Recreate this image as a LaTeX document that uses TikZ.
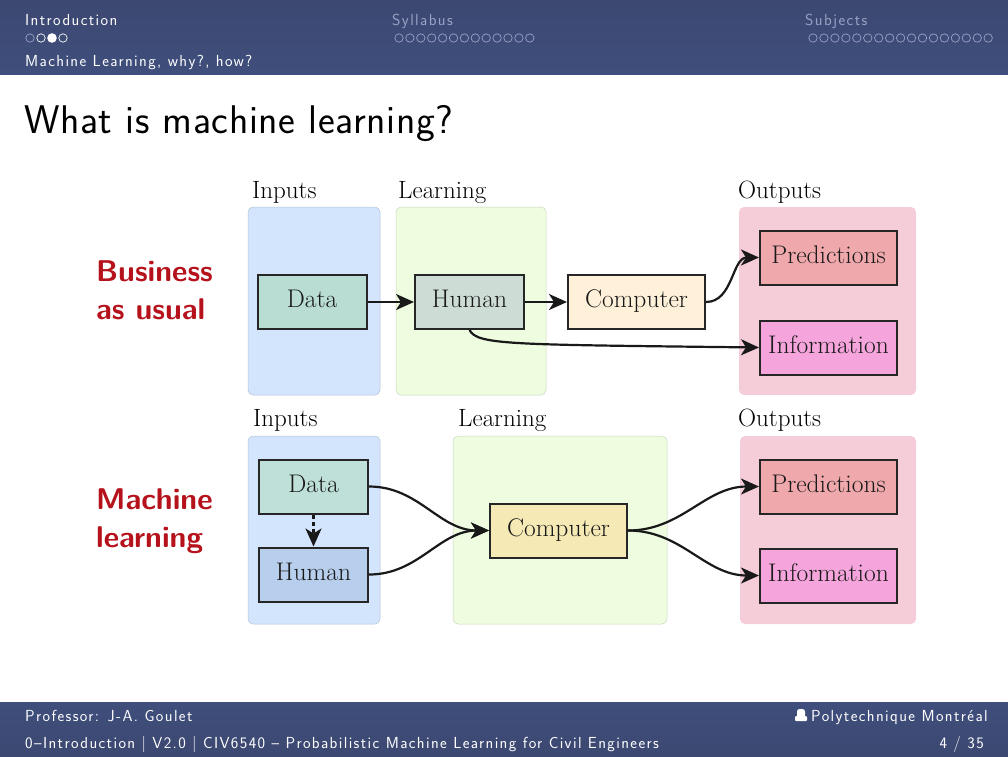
\documentclass[tikz,border=0pt]{standalone}
\usepackage{fontspec}
\usepackage{tikz}
\usetikzlibrary{arrows.meta}
\newfontfamily\navsans{Latin Modern Sans}[LetterSpace=8.7]
\newfontfamily\titlesans{Latin Modern Sans}[LetterSpace=1.6]
\definecolor{barTop}{HTML}{3C4871}
\definecolor{barBot}{HTML}{3F4E7C}
\definecolor{navDim}{HTML}{98A2C4}
\definecolor{inBlue}{HTML}{D2E5FC}
\definecolor{learnGreen}{HTML}{EEFCDF}
\definecolor{outPink}{HTML}{F4CDD8}
\definecolor{rowRed}{HTML}{B5121B}
\tikzset{lbl/.style={inner sep=0pt, anchor=base west, font=\fontsize{25}{28}\selectfont},
  navlbl/.style={inner sep=0pt, anchor=base west, text=white, font=\navsans\fontsize{16}{18}\selectfont},
  rowlbl/.style={inner sep=0pt, anchor=base west, align=left, text=rowRed,
  font=\sffamily\bfseries\fontsize{30}{38}\selectfont},
  region/.style={rounded corners=5pt, line width=0.5pt},
  box/.style={draw=black!85, line width=2pt, inner sep=0pt, minimum width=109pt,
  minimum height=54pt, text height=18pt, text depth=7pt,
  font=\fontsize{25.5}{28}\selectfont, text=black!90}}

\begin{document}
\begin{tikzpicture}[x=1pt, y=-1pt, >={Stealth[length=18pt, width=16pt, inset=5pt]},
  edge/.style={->, line width=2.2pt, black!90},
  dot/.style={draw, line width=0.7pt}]
  \useasboundingbox (0,0) rectangle (1008,756);
  % header and footer bars
  \fill[top color=barTop, bottom color=barBot] (0,0) rectangle (1008,74);
  \fill[top color=barBot, bottom color=barTop] (0,702) rectangle (1008,756);
  \node[navlbl] (secA) at (25,25) {Introduction};
  \node[navlbl, text=navDim] (secB) at (392,25) {Syllabus};
  \node[navlbl, text=navDim] (secC) at (805,25) {Subjects};
  \node[navlbl] (subsec) at (25,66) {Machine Learning, why?, how?};
  \draw[dot, navDim] (30,38) circle (4.2);
  \foreach \x in {41,63}
    \draw[dot, white] (\x,38) circle (4.2);
  \fill[white] (52,38) circle (4.8);
  \foreach \i in {0,...,12}
    \draw[dot, navDim] (399+\i*10.9,38) circle (4.2);
  \foreach \i in {0,...,16}
    \draw[dot, navDim] (813+\i*10.95,38) circle (4.2);
  \node[inner sep=0pt, anchor=base west, font=\titlesans\fontsize{40}{44}\selectfont] (title) at (24,133)
    {What is machine learning?};
  \node[navlbl] (prof) at (25,721) {Professor: J-A. Goulet};
  \node[navlbl] (course) at (25,748) {0–Introduction | V2.0 | CIV6540 – Probabilistic Machine Learning for Civil Engineers};
  % school logo
  \fill[white, rounded corners=2.5pt] (797,709) rectangle (805,718);
  \fill[white, rounded corners=1pt] (795,716) rectangle (807,721);
  \node[navlbl] (poly) at (811,721) {Polytechnique Montréal};
  \node[navlbl, anchor=base east] (page) at (984,748) {4 / 35};
  % row names
  \node[rowlbl] (rowA) at (96,319) {Business\\as usual};
  \node[rowlbl] (rowB) at (96,547) {Machine\\learning};
  % top row regions
  \fill[region, draw=inBlue!85!black, fill=inBlue] (248,207) rectangle (380,395);
  \fill[region, draw=learnGreen!85!black, fill=learnGreen] (396,207) rectangle (546,395);
  \fill[region, fill=outPink] (739,207) rectangle (916,395);
  \node[lbl] (tInputs) at (252,198) {Inputs};
  \node[lbl] (tLearning) at (398,198) {Learning};
  \node[lbl] (tOutputs) at (738,198) {Outputs};
  % bottom row regions
  \fill[region, draw=inBlue!85!black, fill=inBlue] (248,436) rectangle (380,624);
  \fill[region, draw=learnGreen!85!black, fill=learnGreen] (453,436) rectangle (667,624);
  \fill[region, fill=outPink] (740,436) rectangle (916,624);
  \node[lbl] (bInputs) at (253,426) {Inputs};
  \node[lbl] (bLearning) at (458,426) {Learning};
  \node[lbl] (bOutputs) at (738,426) {Outputs};
  % top row boxes
  \node[box, fill={rgb,255:red,185;green,221;blue,211}] (tData) at (312,302) {Data};
  \node[box, fill={rgb,255:red,205;green,221;blue,214}] (tHuman) at (469.5,302) {Human};
  \node[box, minimum width=137pt, fill={rgb,255:red,255;green,240;blue,217}] (tComputer) at (636.5,302) {Computer};
  \node[box, minimum width=137pt, fill={rgb,255:red,239;green,168;blue,171}] (tPred) at (828.5,257.5) {Predictions};
  \node[box, minimum width=137pt, fill={rgb,255:red,245;green,165;blue,220}] (tInfo) at (828.5,347.5) {Information};
  % bottom row boxes
  \node[box, fill={rgb,255:red,190;green,224;blue,216}] (bData) at (313.5,486.5) {Data};
  \node[box, fill={rgb,255:red,183;green,207;blue,236}] (bHuman) at (313.5,574.5) {Human};
  \node[box, minimum width=137pt, fill={rgb,255:red,245;green,234;blue,182}] (bComputer) at (558.5,530.5) {Computer};
  \node[box, minimum width=137pt, fill={rgb,255:red,239;green,168;blue,171}] (bPred) at (828.5,486.5) {Predictions};
  \node[box, minimum width=137pt, fill={rgb,255:red,245;green,165;blue,220}] (bInfo) at (828.5,575.5) {Information};
  % top row edges
  \draw[edge] (tData) -- (tHuman);
  \draw[edge] (tHuman) -- (tComputer);
  \draw[edge] (tComputer.east) to[out=0, in=180] (tPred.west);
  \draw[edge] (tHuman.south) .. controls +(8,15) and +(-250,-3) .. (tInfo.west);
  % bottom row edges
  \draw[edge, dash pattern=on 4pt off 3pt] (bData) -- (bHuman);
  \draw[edge] (bData.east) to[out=0, in=180] (bComputer.west);
  \draw[edge] (bHuman.east) to[out=0, in=180] (bComputer.west);
  \draw[edge] (bComputer.east) to[out=0, in=180] (bPred.west);
  \draw[edge] (bComputer.east) to[out=0, in=180] (bInfo.west);
\end{tikzpicture}
\end{document}
